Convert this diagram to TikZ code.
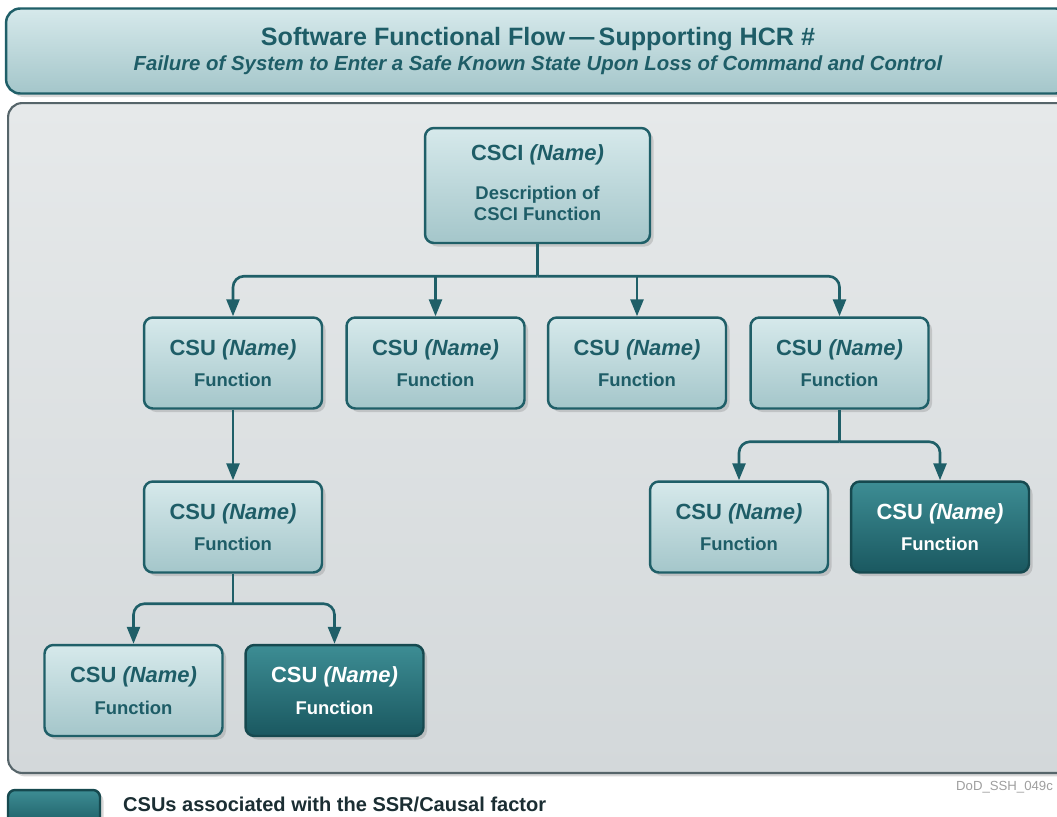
\documentclass[tikz,border=0pt]{standalone}
\usepackage{fontspec}
\setmainfont{Liberation Sans}
\usepackage{xcolor}
\usepackage{tikz}
\usetikzlibrary{arrows.meta,calc,shadows}
\definecolor{tealtext}{HTML}{1E5D67}
\definecolor{tealline}{HTML}{1F5F68}
\definecolor{boxtop}{HTML}{D6E9EB}
\definecolor{boxbot}{HTML}{A4C6CA}
\definecolor{keytop}{HTML}{3D8D94}
\definecolor{keybot}{HTML}{1A5860}
\definecolor{darkline}{HTML}{16494F}
\definecolor{paneltop}{HTML}{E6E9EA}
\definecolor{panelbot}{HTML}{D3D8DA}
\definecolor{panelline}{HTML}{56656A}
\definecolor{keytext}{HTML}{1B2E33}

\newcommand{\csulabel}{{\fontsize{12.5}{14}\selectfont CSU \textit{(Name)}}\\[6pt]{\fontsize{10.5}{12}\selectfont Function}}

\begin{document}
\begin{tikzpicture}[
  x=0.02cm, y=-0.02cm,
  font=\bfseries,
  arr/.style={-{Triangle[length=3.4mm, width=2.6mm]}, line width=1.5pt, draw=tealline, rounded corners=2.2mm},
  stem/.style={line width=1.5pt, draw=tealline},
  csu/.style={draw=tealline, line width=1.4pt, rounded corners=5pt, top color=boxtop, bottom color=boxbot,
    text=tealtext, align=center, minimum width=3.56cm, minimum height=1.82cm, inner sep=2pt,
    drop shadow={shadow xshift=2pt, shadow yshift=-2pt, opacity=0.3}},
  csukey/.style={csu, draw=darkline, top color=keytop, bottom color=keybot, text=white},
]
\useasboundingbox[fill=white] (0,0) rectangle (1057,816);

% frame
\node[draw=tealline, line width=1.4pt, rounded corners=8pt, top color=boxtop, bottom color=boxbot,
      text=tealtext, align=center, minimum width=21.28cm, minimum height=1.7cm,
      drop shadow={shadow xshift=2pt, shadow yshift=-2pt, opacity=0.3}] (title) at (538,51)
  {{\fontsize{14.3}{16}\selectfont Software Functional Flow\,—\,Supporting HCR \#}\\[2pt]
   {\itshape\fontsize{11.6}{13}\selectfont Failure of System to Enter a Safe Known State Upon Loss of Command and Control}};
\node[draw=panelline, line width=1.2pt, rounded corners=8pt, top color=paneltop, bottom color=panelbot,
      minimum width=21.28cm, minimum height=13.4cm,
      drop shadow={shadow xshift=2pt, shadow yshift=-2pt, opacity=0.3}] (panel) at (540,438) {};

% boxes
\node[csu, minimum width=4.5cm, minimum height=2.3cm, text depth=3pt, font=\bfseries\fontsize{10.5}{12}\selectfont] (csci) at (537.5,185.5)
  {{\fontsize{12.5}{14}\selectfont CSCI \textit{(Name)}}\\[10pt] Description of\\CSCI Function};
\node[csu] (u1) at (233,363) {\csulabel};
\node[csu] (u2) at (435.5,363) {\csulabel};
\node[csu] (u3) at (637,363) {\csulabel};
\node[csu] (u4) at (839.5,363) {\csulabel};
\node[csu] (l1) at (233,527) {\csulabel};
\node[csu] (r1) at (739,527) {\csulabel};
\node[csukey] (r2) at (940,527) {\csulabel};
\node[csu] (l2) at (133.5,690.5) {\csulabel};
\node[csukey] (l3) at (334.5,690.5) {\csulabel};

% connectors
\coordinate (j1) at ($(csci.south)+(0,32)$);
\draw[stem] (csci.south) -- (j1);
\draw[arr] (j1) -| (u1.north);
\draw[arr] (j1) -| (u4.north);
\draw[arr] (u2.north |- j1) -- (u2.north);
\draw[arr] (u3.north |- j1) -- (u3.north);

\draw[arr] (u1) -- (l1);

\coordinate (j2) at ($(u4.south)+(0,32)$);
\draw[stem] (u4.south) -- (j2);
\draw[arr] (j2) -| (r1.north);
\draw[arr] (j2) -| (r2.north);

\coordinate (j3) at ($(l1.south)+(0,30)$);
\draw[stem] (l1.south) -- (j3);
\draw[arr] (j3) -| (l2.north);
\draw[arr] (j3) -| (l3.north);

% key
\node[csukey, minimum width=1.84cm, minimum height=0.8cm, rounded corners=4pt] (key) at (54,810) {};
\node[anchor=west, text=keytext, font=\bfseries\fontsize{11.4}{13}\selectfont] (keylab) at (117,804)
  {CSUs associated with the SSR/Causal factor};
\node[anchor=east, text=gray!75, font=\mdseries\fontsize{7.5}{8}\selectfont, inner sep=1pt] (tag) at (1055,787) {DoD\_SSH\_049c};
\end{tikzpicture}
\end{document}
